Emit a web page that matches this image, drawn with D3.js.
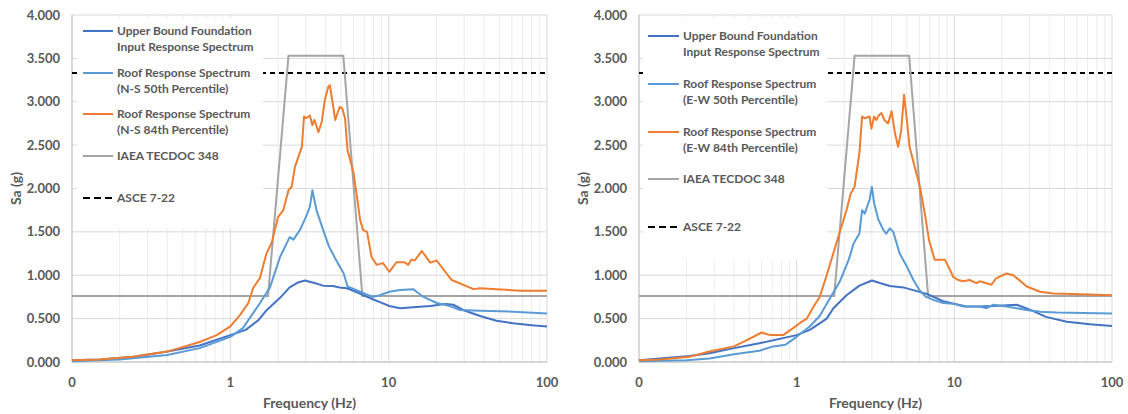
<!DOCTYPE html>
<html>
<head>
<meta charset="utf-8">
<script src="https://cdnjs.cloudflare.com/ajax/libs/d3/7.8.5/d3.min.js"></script>
<style>
  body { margin: 0; background: #fff; }
  text { font-family: Lato, "Open Sans", sans-serif; font-weight: bold; fill: #595959; }
</style>
</head>
<body>
<div id="chart"></div>
<script>
// ---- data (frequency Hz, Sa g) ----
var nsFoundation = [[0.1,0.02],[0.15,0.03],[0.25,0.06],[0.4,0.12],[0.64,0.19],[1,0.31],[1.25,0.37],[1.5,0.48],[1.7,0.60],[2.06,0.74],[2.37,0.86],[2.7,0.92],[2.96,0.94],[3.4,0.91],[3.85,0.88],[4.45,0.875],[4.9,0.86],[5.45,0.85],[6.2,0.81],[6.9,0.77],[8.0,0.72],[8.8,0.69],[10.1,0.645],[11.8,0.62],[14.3,0.63],[18.3,0.645],[23,0.67],[25.6,0.66],[29.5,0.60],[37.8,0.53],[48,0.476],[61,0.446],[80,0.425],[100,0.41]];
var ns50 = [[0.1,0.01],[0.2,0.03],[0.4,0.08],[0.64,0.16],[1,0.29],[1.2,0.39],[1.39,0.56],[1.54,0.68],[1.78,0.86],[2.06,1.21],[2.37,1.44],[2.5,1.41],[2.75,1.52],[3.0,1.67],[3.18,1.79],[3.3,1.98],[3.5,1.75],[3.86,1.52],[4.2,1.33],[4.7,1.16],[5.2,1.02],[5.5,0.87],[6.6,0.81],[7.9,0.75],[8.8,0.77],[10.1,0.81],[11.8,0.83],[14.3,0.84],[15,0.81],[16.6,0.75],[20.1,0.68],[24.4,0.645],[28,0.60],[37.8,0.59],[61,0.58],[100,0.56]];
var ns84 = [[0.1,0.02],[0.15,0.03],[0.24,0.06],[0.4,0.12],[0.64,0.23],[0.82,0.31],[1,0.41],[1.15,0.54],[1.3,0.68],[1.39,0.85],[1.54,0.97],[1.69,1.25],[1.83,1.38],[2.0,1.67],[2.16,1.75],[2.33,1.98],[2.44,2.02],[2.56,2.25],[2.83,2.48],[2.92,2.83],[3.0,2.81],[3.18,2.84],[3.3,2.73],[3.4,2.79],[3.6,2.65],[3.78,2.77],[3.95,3.02],[4.15,3.17],[4.25,3.19],[4.4,3.02],[4.6,2.79],[4.9,2.94],[5.1,2.92],[5.3,2.81],[5.5,2.44],[6.0,2.18],[6.3,1.91],[6.6,1.64],[6.9,1.52],[7.3,1.50],[7.8,1.21],[8.4,1.12],[9.2,1.14],[10.1,1.04],[11.2,1.15],[12.6,1.15],[13.3,1.12],[13.9,1.18],[14.6,1.17],[16.2,1.28],[18.3,1.145],[20.1,1.17],[25,0.945],[34.4,0.84],[37.8,0.85],[48,0.84],[67.8,0.82],[100,0.82]];

var ewFoundation = [[0.1,0.02],[0.21,0.07],[0.28,0.10],[0.4,0.16],[0.58,0.215],[1,0.31],[1.21,0.37],[1.4,0.446],[1.55,0.50],[1.71,0.62],[2.07,0.77],[2.5,0.88],[3.0,0.94],[3.37,0.91],[3.9,0.876],[4.75,0.86],[5.7,0.82],[6.8,0.78],[8.5,0.70],[10.1,0.67],[11.9,0.64],[14.5,0.64],[17.7,0.645],[24.9,0.66],[30.4,0.60],[38.1,0.52],[51.7,0.465],[72.5,0.435],[100,0.415]];
var ew50 = [[0.1,0.01],[0.2,0.02],[0.28,0.04],[0.4,0.09],[0.58,0.13],[0.71,0.18],[0.85,0.2],[1,0.29],[1.21,0.41],[1.4,0.53],[1.62,0.73],[1.88,0.93],[2.14,1.18],[2.3,1.37],[2.5,1.48],[2.6,1.75],[2.7,1.71],[2.9,1.87],[3.0,2.02],[3.1,1.83],[3.3,1.64],[3.55,1.52],[3.7,1.48],[3.9,1.54],[4.1,1.50],[4.5,1.25],[5.0,1.10],[5.5,0.945],[6.0,0.83],[6.6,0.75],[7.5,0.71],[8.5,0.68],[9.85,0.67],[11.4,0.64],[14.5,0.64],[16,0.62],[17.7,0.66],[21.4,0.64],[28.8,0.60],[35,0.58],[44.6,0.57],[100,0.56]];
var ew84 = [[0.1,0.02],[0.136,0.03],[0.21,0.06],[0.28,0.12],[0.4,0.18],[0.48,0.25],[0.6,0.34],[0.68,0.31],[0.82,0.31],[0.95,0.39],[1.05,0.45],[1.16,0.50],[1.28,0.64],[1.4,0.75],[1.55,1.0],[1.8,1.39],[2.07,1.75],[2.2,1.94],[2.33,2.02],[2.5,2.41],[2.6,2.83],[2.7,2.81],[2.9,2.83],[2.98,2.69],[3.1,2.83],[3.2,2.79],[3.34,2.85],[3.45,2.87],[3.6,2.79],[3.8,2.75],[4.0,2.89],[4.2,2.64],[4.4,2.48],[4.6,2.67],[4.8,3.08],[5.0,2.79],[5.2,2.48],[5.6,2.25],[6.05,2.02],[6.5,1.71],[6.9,1.41],[7.5,1.18],[8.1,1.18],[8.7,1.18],[9.4,1.06],[9.85,0.98],[10.6,0.945],[11.4,0.93],[12.5,0.945],[13.8,0.91],[14.5,0.93],[17.2,0.89],[18.4,0.965],[21.4,1.02],[23.7,1.0],[28.8,0.87],[35,0.81],[42.5,0.79],[56.2,0.785],[100,0.77]];

// envelope lines shared by both plots
var iaea = [[0.1,0.76],[1.73,0.76],[2.33,3.53],[5.17,3.53],[6.82,0.76],[100,0.76]];
var asce = [[0.1,3.33],[100,3.33]];

var xTickValues = [0.1, 1, 10, 100];
var xTickLabels = ["0", "1", "10", "100"];
var yTickValues = [0, 0.5, 1, 1.5, 2, 2.5, 3, 3.5, 4];

var nsLabels = [["Upper Bound Foundation","Input Response Spectrum"],["Roof Response Spectrum","(N-S 50th Percentile)"],["Roof Response Spectrum","(N-S 84th Percentile)"],["IAEA TECDOC 348"],["ASCE 7-22"]];
var ewLabels = [["Upper Bound Foundation","Input Response Spectrum"],["Roof Response Spectrum","(E-W 50th Percentile)"],["Roof Response Spectrum","(E-W 84th Percentile)"],["IAEA TECDOC 348"],["ASCE 7-22"]];

var colors = ["#4472C4", "#5B9BD5", "#ED7D31", "#A5A5A5", "#000000"];

var plotTop = 15, plotBottom = 362;

var svg = d3.select("#chart")
    .append("svg")
        .attr("width", 1128)
        .attr("height", 414);

function drawPanel(p){

  var x = d3.scaleLog().domain([0.1, 100]).range([p.left, p.right]);
  var y = d3.scaleLinear().domain([0, 4]).range([plotBottom, plotTop]);

  var g = svg.append("g");

  // vertical gridlines, minor then decades
  var minor = [];
  [0.1, 1, 10].forEach(function(dec){
    for (var k = 2; k <= 9; k++) minor.push(dec * k);
  });
  g.selectAll(".minor").data(minor).enter().append("line")
    .attr("x1", d => x(d)).attr("x2", d => x(d))
    .attr("y1", plotTop).attr("y2", plotBottom)
    .attr("stroke", "#ececec").attr("stroke-width", 1);

  g.selectAll(".major").data([1, 10, 100]).enter().append("line")
    .attr("x1", d => x(d)).attr("x2", d => x(d))
    .attr("y1", plotTop).attr("y2", plotBottom)
    .attr("stroke", "#d9d9d9").attr("stroke-width", 1);

  // horizontal gridlines
  g.selectAll(".hgrid").data(yTickValues).enter().append("line")
    .attr("x1", p.left).attr("x2", p.right)
    .attr("y1", d => y(d)).attr("y2", d => y(d))
    .attr("stroke", "#d9d9d9").attr("stroke-width", 1);

  // axis lines
  g.append("line").attr("x1", p.left).attr("x2", p.left).attr("y1", plotTop).attr("y2", plotBottom)
    .attr("stroke", "#bfbfbf").attr("stroke-width", 1.2);
  g.append("line").attr("x1", p.left).attr("x2", p.right).attr("y1", plotBottom).attr("y2", plotBottom)
    .attr("stroke", "#bfbfbf").attr("stroke-width", 1.2);

  // y tick labels
  g.selectAll(".ylab").data(yTickValues).enter().append("text")
    .attr("x", p.left - 12).attr("y", d => y(d)).attr("dy", "0.35em")
    .attr("text-anchor", "end").attr("font-size", 13)
    .text(d3.format(".3f"));

  // x tick labels
  g.selectAll(".xlab").data(xTickValues).enter().append("text")
    .attr("x", d => x(d)).attr("y", 387)
    .attr("text-anchor", "middle").attr("font-size", 13)
    .text((d, i) => xTickLabels[i]);

  g.append("text")
    .attr("x", (p.left + p.right) / 2).attr("y", 408)
    .attr("text-anchor", "middle").attr("font-size", 14)
    .text("Frequency (Hz)");

  g.append("text")
    .attr("transform", "translate(" + (p.left - 56) + "," + ((plotTop + plotBottom) / 2) + ") rotate(-90)")
    .attr("dy", "0.35em")
    .attr("text-anchor", "middle").attr("font-size", 14)
    .text("Sa (g)");

  var line = d3.line()
    .x(d => x(d[0]))
    .y(d => y(d[1]));

  g.append("path").datum(asce).attr("d", line)
    .attr("fill", "none").attr("stroke", colors[4]).attr("stroke-width", 2)
    .attr("stroke-dasharray", "5,4");

  g.append("path").datum(iaea).attr("d", line)
    .attr("fill", "none").attr("stroke", colors[3]).attr("stroke-width", 2);

  [p.series[0], p.series[1], p.series[2]].forEach(function(s, i){
    g.append("path").datum(s).attr("d", line)
      .attr("fill", "none").attr("stroke", colors[i]).attr("stroke-width", 2)
      .attr("stroke-linejoin", "round");
  });

  // legend (white box over the gridlines)
  var L = p.legend;
  var leg = g.append("g");
  leg.append("rect")
    .attr("x", L.x).attr("y", L.y).attr("width", L.w).attr("height", L.h)
    .attr("fill", "#fff");

  p.labels.forEach(function(lbl, i){
    var ry = L.rows[i];
    leg.append("line")
      .attr("x1", L.sx0).attr("x2", L.sx1).attr("y1", ry).attr("y2", ry)
      .attr("stroke", colors[i]).attr("stroke-width", 2)
      .attr("stroke-dasharray", i == 4 ? "7,4" : null);
    lbl.forEach(function(t, j){
      leg.append("text")
        .attr("x", L.tx).attr("y", ry + j * 16).attr("dy", "0.35em")
        .attr("font-size", 12)
        .text(t);
    });
  });
}

drawPanel({
  left: 72, right: 547,
  series: [nsFoundation, ns50, ns84],
  labels: nsLabels,
  legend: {x: 77, y: 18, w: 186, h: 210, sx0: 83, sx1: 113, tx: 117, rows: [31, 73, 114, 156, 198]}
});

drawPanel({
  left: 639, right: 1112,
  series: [ewFoundation, ew50, ew84],
  labels: ewLabels,
  legend: {x: 643, y: 18, w: 184, h: 242, sx0: 648, sx1: 679, tx: 683, rows: [36, 84, 132, 179, 227]}
});
</script>
</body>
</html>
